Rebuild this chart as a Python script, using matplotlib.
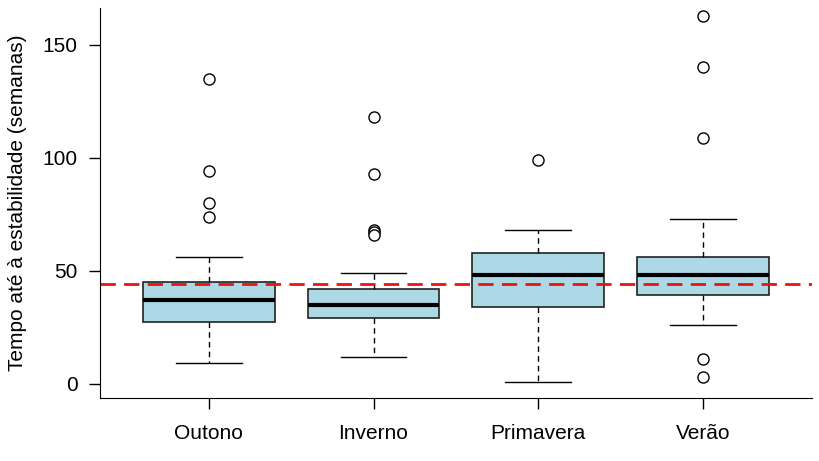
import numpy as np
import matplotlib.pyplot as plt

plt.rcParams['font.family'] = ['Liberation Sans', 'DejaVu Sans']

# dados
estacoes = ["Outono", "Inverno", "Primavera", "Verão"]
wlo = [9, 12, 1, 26]
q1 = [27.5, 29, 34, 39.5]
med = [37, 35, 48, 48]
q3 = [45, 42, 58, 56]
whi = [56, 49, 68, 73]
outliers = [
    [135, 94, 80, 74],
    [118, 93, 68, 67, 66],
    [99],
    [163, 140, 109, 11, 3],
]
media_geral = 44

stats = []
for i in range(len(estacoes)):
    stats.append({
        "label": estacoes[i],
        "whislo": wlo[i],
        "q1": q1[i],
        "med": med[i],
        "q3": q3[i],
        "whishi": whi[i],
        "fliers": outliers[i],
    })

fig = plt.figure(figsize=(8.2, 4.61), dpi=100)
ax = fig.add_axes([0.122, 0.137, 0.868, 0.846])

ax.bxp(stats, positions=[1, 2, 3, 4], widths=0.8, patch_artist=True,
       boxprops=dict(facecolor="#ADD8E6", edgecolor="#222222", linewidth=1.2),
       medianprops=dict(color="black", linewidth=3, solid_capstyle="butt"),
       whiskerprops=dict(color="black", linewidth=1, linestyle=(0, (4, 3))),
       capprops=dict(color="black", linewidth=1),
       capwidths=0.4,
       flierprops=dict(marker="o", markersize=8, markerfacecolor="white",
                       markeredgecolor="black", markeredgewidth=1))

ax.axhline(media_geral, color="#EE1111", linewidth=2, linestyle=(0, (5.5, 3)))

ax.set_xlim(0.34, 4.66)
ax.set_ylim(-6.2, 166.4)
ax.set_yticks([0, 50, 100, 150])
ax.set_xticks([1, 2, 3, 4])
ax.set_xticklabels(estacoes)
ax.tick_params(labelsize=15, length=8, width=1)
ax.tick_params(axis="x", pad=11)
ax.tick_params(axis="y", pad=8)
ax.spines["top"].set_visible(False)
ax.spines["right"].set_visible(False)
ax.set_ylabel("Tempo até à estabilidade (semanas)", fontsize=15, labelpad=11)

fig.savefig("out.png", dpi=100)
